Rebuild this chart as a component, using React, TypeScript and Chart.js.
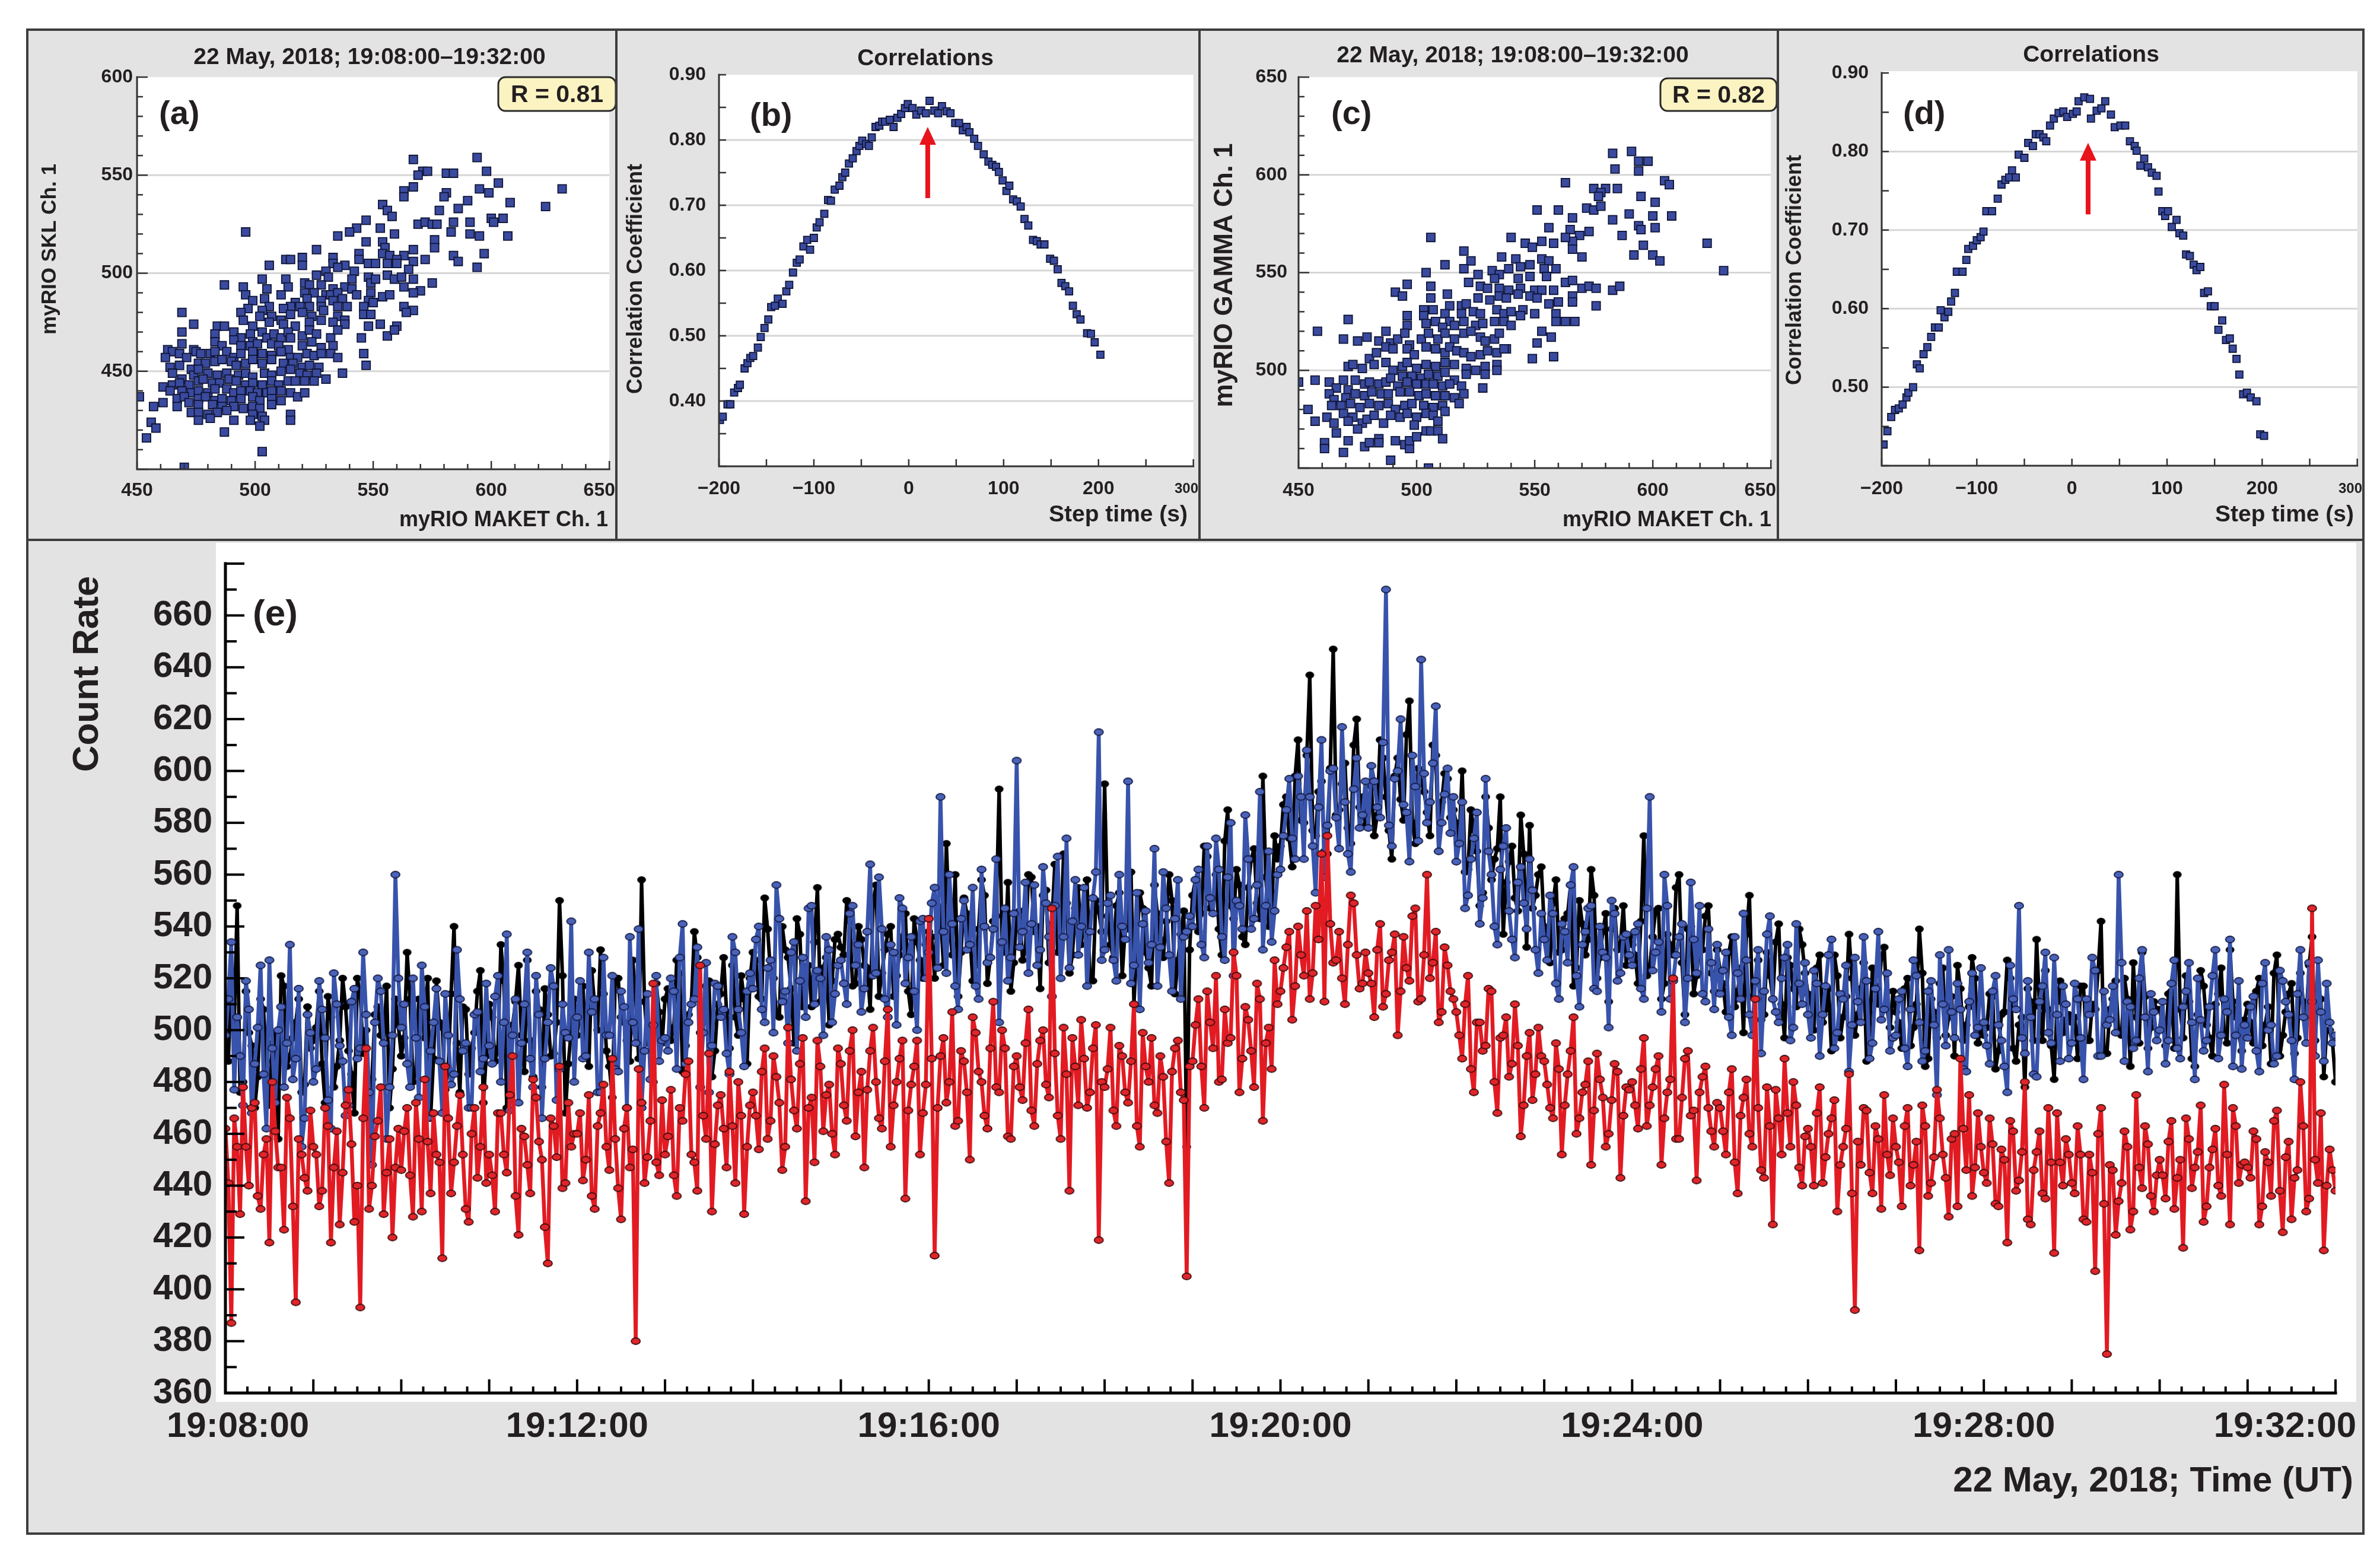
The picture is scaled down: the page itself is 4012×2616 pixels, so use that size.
import React, { useEffect, useRef } from "react";
import { Chart, registerables } from "chart.js";

Chart.register(...registerables);

const SANS = '"Liberation Sans", Arial, sans-serif';
const INK = "#231f20";

// ---------------- texts ----------------
const dateRangeTitle = "22 May, 2018; 19:08:00\u201319:32:00";
const corrTitle = "Correlations";
const aYTitle = "myRIO SKL Ch. 1";
const cYTitle = "myRIO GAMMA Ch. 1";
const scatterXTitle = "myRIO MAKET Ch. 1";
const corrYTitle = "Correlation Coefficient";
const corrXTitle = "Step time (s)";
const eYTitle = "Count Rate";
const eXTitle = "22 May, 2018; Time (UT)";
const aR = "R = 0.81";
const cR = "R = 0.82";

// ---------------- tick labels ----------------
const scatterXLabels = [450, 500, 550, 600, 650];
const aYLabels = [450, 500, 550, 600];
const cYLabels = [500, 550, 600, 650];
const corrXLabels = [-200, -100, 0, 100, 200, 300];
const bYLabels = [0.4, 0.5, 0.6, 0.7, 0.8, 0.9];
const dYLabels = [0.5, 0.6, 0.7, 0.8, 0.9];
const eYLabels = [360, 380, 400, 420, 440, 460, 480, 500, 520, 540, 560, 580, 600, 620, 640, 660];
const eXTickSeconds = [0, 240, 480, 720, 960, 1200, 1440];
const eXLabels = ["19:08:00", "19:12:00", "19:16:00", "19:20:00", "19:24:00", "19:28:00", "19:32:00"];

// ---------------- panel (a): MAKET Ch.1 (x) vs SKL Ch.1 (y) ----------------
const aPairs: [number, number][] = [
  [594,559],[630,543],[623,534],[608,536],[603,546],[598,552],[595,543],[599,541],[590,537],[591,526],
  [600,528],[601,526],[605,528],[595,519],[607,519],[591,520],[597,510],[594,503],[567,558],[581,551],
  [584,551],[571,552],[573,552],[569,550],[563,542],[567,544],[581,541],
  [554,535],[556,532],[558,529],[547,527],[578,532],[586,533],[584,526],[580,539],[563,539],
  [569,525],[572,526],[575,525],[577,525],[543,523],[553,523],[540,521],[559,520],[583,521],[496,521],[535,519],
  [547,516],[554,516],[576,517],[555,513],[576,513],[526,512],[544,510],[567,512],[554,510],[557,509],[584,509],[520,508],[513,507],[515,507],
  [533,508],[544,507],[563,509],[560,507],[572,507],[520,504],[506,504],[533,505],[548,505],[551,505],[556,505],[560,505],[567,506],[586,506],[538,504],[535,503],[530,501],[565,502],[542,501],
  [526,499],[531,498],[541,497],[548,498],[556,499],[559,497],[562,498],[567,497],[503,497],[513,497],[487,494],[495,493],[505,492],[514,493],[521,495],[523,494],[528,494],[533,492],[538,493],[541,492],[549,495],[551,497],[563,493],[575,495],[570,491],
  [511,489],[496,489],[521,490],[525,490],[530,489],[532,489],[535,490],[543,489],[549,490],[554,488],[557,489],[567,490],[499,486],[504,487],[517,485],[522,487],[528,486],[533,486],[537,487],[548,486],[550,485],[563,483],[567,481],[546,483],[539,483],[535,483],[528,483],[523,483],[519,483],[515,483],[512,482],[506,483],[503,481],[497,482],[494,480],[469,480],
  [495,476],[502,478],[507,478],[511,476],[515,479],[520,480],[524,478],[529,481],[535,478],[538,476],[546,479],[549,479],[553,474],[560,473],[564,480],[474,474],[484,473],[487,473],[491,470],[499,473],[506,475],[512,474],[517,473],[523,475],[528,476],[533,475],[538,474],[548,473],
  [469,470],[483,469],[494,467],[498,469],[499,465],[503,470],[505,467],[508,469],[511,467],[514,470],[515,467],[520,468],[523,471],[526,469],[532,467],[535,471],[545,467],[556,468],[559,471],[463,461],[465,460],[469,464],[474,461],[483,465],[486,463],[491,466],[494,463],[498,463],[501,464],[507,464],[510,463],[514,461],[520,463],[524,465],[528,462],[533,463],
  [462,457],[468,459],[471,457],[475,460],[477,459],[481,459],[483,460],[488,460],[491,457],[494,459],[499,460],[503,459],[507,458],[511,460],[515,457],[518,457],[522,459],[525,458],[528,459],[532,459],[535,457],[546,459],[464,452],[468,453],[473,451],[476,454],[479,454],[483,455],[486,456],[490,455],[492,453],[496,454],[499,456],[503,454],[507,456],[512,454],[516,454],[520,452],[523,453],[527,452],[547,453],
  [465,449],[469,446],[474,448],[476,451],[480,449],[484,448],[488,449],[493,448],[496,449],[499,447],[504,449],[507,448],[511,450],[515,451],[519,449],[522,448],[526,449],[530,446],[537,449],[461,442],[465,443],[468,444],[472,443],[476,445],[478,446],[482,444],[485,444],[489,446],[492,445],[496,443],[499,444],[503,443],[507,445],[510,443],[514,445],[517,445],[521,445],[525,445],
  [464,440],[469,440],[473,439],[476,440],[480,439],[483,441],[488,441],[491,439],[494,440],[498,440],[501,439],[505,439],[507,440],[511,440],[515,439],[518,437],[521,439],[451,437],[467,436],[470,437],[476,436],[479,437],[483,435],[486,436],[490,435],[494,436],[499,437],[502,435],[507,436],[511,435],
  [457,432],[461,434],[467,432],[472,434],[476,433],[482,433],[486,432],[491,432],[495,431],[499,432],[502,431],[507,433],[473,429],[476,429],[480,428],[484,429],[488,430],[499,428],[503,427],[515,428],[476,425],[481,426],[491,425],[498,425],[504,425],[515,425],
  [456,424],[458,421],[454,416],[487,419],[502,422],[503,409],[470,401]
];

// ---------------- panel (c): MAKET Ch.1 (x) vs GAMMA Ch.1 (y) ----------------
const cPairs: [number, number][] = [
  [591,612],[583,611],[594,607],[598,607],[594,602],[584,603],[605,597],[607,595],[563,596],[575,593],
  [580,593],[578,591],[585,593],[595,589],[601,586],[600,579],[608,579],[590,580],[594,574],[595,572],
  [601,573],[596,564],[592,559],[600,559],[603,556],[623,565],[630,551],
  [551,582],[560,582],[572,583],[575,582],[578,584],[566,578],[583,577],[587,569],[577,589],
  [556,573],[565,572],[573,571],[569,569],[566,566],[553,566],[558,565],[563,568],[540,568],[506,568],[546,565],[549,563],[566,562],[570,558],[520,561],[536,558],[542,557],[553,557],[556,556],[512,554],[523,556],[548,554],[559,552],[554,552],[520,552],[544,553],[539,552],[532,551],[535,549],[504,550],[526,549],[555,548],[548,548],[543,547],[533,547],[522,545],[563,545],[566,546],[570,542],[573,543],[576,542],[583,541],[586,543],[496,544],[491,540],[494,538],[506,543],[513,539],[527,543],[530,542],[535,542],[539,541],[544,542],[550,541],[553,541],[558,541],
  [506,537],[519,533],[521,534],[526,537],[531,536],[535,538],[538,537],[543,539],[548,538],[551,537],[556,534],[560,535],[566,538],[576,533],[503,531],[514,533],[566,535],[545,531],[550,529],[496,528],[503,528],[507,531],[512,529],[514,525],[519,529],[524,530],[527,529],[534,531],[537,529],[540,530],[544,528],[559,529],[563,525],[567,525],[559,525],
  [471,526],[458,520],[496,523],[504,524],[508,525],[511,522],[516,523],[520,525],[525,523],[528,524],[533,525],[537,525],[540,523],[553,520],[557,517],[551,514],[469,516],[475,515],[479,517],[484,515],[487,520],[489,514],[492,516],[495,519],[497,513],[502,516],[505,519],[509,516],[512,519],[516,516],[520,519],[523,520],[527,517],[529,515],[533,516],[535,519],[538,511],
  [480,506],[483,509],[487,512],[490,511],[496,511],[499,508],[504,512],[508,511],[512,509],[514,512],[517,510],[520,509],[523,507],[527,508],[530,510],[534,509],[537,511],[549,506],[558,507],[471,502],[473,503],[477,501],[482,503],[487,504],[490,500],[494,502],[496,504],[500,501],[504,503],[508,502],[512,504],[516,503],[521,501],[525,500],[529,502],[534,503],[534,500],[521,498],[529,498],[528,491],
  [450,494],[457,495],[463,494],[469,495],[466,491],[471,490],[474,495],[478,493],[480,494],[484,493],[487,494],[489,496],[494,497],[498,497],[502,496],[505,498],[509,497],[512,499],[516,495],[519,492],[520,488],[496,494],[492,492],[500,493],[504,493],[507,493],[511,492],[514,493],
  [463,488],[465,485],[470,486],[474,488],[478,487],[481,489],[485,488],[488,488],[493,489],[497,489],[501,487],[504,488],[508,487],[512,487],[516,486],[518,483],[464,482],[468,482],[472,483],[476,481],[480,483],[484,482],[488,483],[491,480],[495,482],[498,483],[503,482],[507,481],[511,482],
  [454,480],[457,474],[462,476],[465,473],[469,478],[473,476],[477,473],[479,475],[482,477],[486,473],[489,477],[493,476],[496,478],[500,476],[504,478],[507,477],[512,479],[466,468],[471,464],[461,463],[461,460],[469,458],[478,461],[480,463],[484,465],[484,463],[491,464],[495,462],[497,460],[497,464],[500,466],[499,472],[504,469],[506,469],[509,469],[511,465],[509,474],[489,454],[505,450],[471,474],[475,470]
];

// ---------------- panel (b): step time vs correlation ----------------
const bPoints: [number, number][] = [
  [-199,0.371],[-196,0.376],[-191,0.395],[-188,0.395],[-184,0.413],[-180,0.42],[-178,0.425],[-173,0.45],
  [-170,0.458],[-167,0.466],[-164,0.469],[-159,0.482],[-156,0.498],[-152,0.512],[-148,0.525],[-145,0.544],
  [-141,0.546],[-138,0.557],[-133,0.549],[-129,0.568],[-126,0.578],[-122,0.597],[-118,0.612],[-115,0.617],
  [-111,0.637],[-107,0.647],[-104,0.632],[-100,0.65],[-97,0.666],[-94,0.674],[-89,0.687],[-85,0.708],
  [-82,0.707],[-78,0.724],[-73,0.73],[-70,0.743],[-67,0.75],[-63,0.764],[-59,0.772],[-55,0.783],
  [-52,0.791],[-49,0.799],[-45,0.794],[-42,0.791],[-39,0.804],[-35,0.82],[-31,0.822],[-28,0.828],
  [-25,0.828],[-20,0.831],[-16,0.82],[-12,0.834],[-8,0.84],[-4,0.849],[-1,0.855],[4,0.849],
  [8,0.839],[13,0.845],[18,0.841],[22,0.86],[27,0.845],[31,0.841],[35,0.852],[40,0.844],
  [44,0.841],[49,0.826],[53,0.826],[57,0.815],[61,0.82],[64,0.812],[69,0.802],[73,0.791],
  [79,0.778],[84,0.767],[88,0.762],[92,0.759],[95,0.751],[99,0.738],[103,0.722],[106,0.73],
  [110,0.709],[114,0.706],[118,0.698],[122,0.679],[126,0.669],[131,0.647],[135,0.645],[139,0.64],
  [143,0.64],[149,0.618],[153,0.615],[157,0.602],[161,0.581],[165,0.576],[169,0.568],[173,0.546],
  [177,0.533],[181,0.525],[188,0.504],[192,0.503],[196,0.49],[202,0.471]
];
const bArrow = { lag: 20, tip: 0.82, base: 0.711 };

// ---------------- panel (d): step time vs correlation ----------------
const dPoints: [number, number][] = [
  [-198,0.427],[-194,0.444],[-190,0.462],[-186,0.471],[-182,0.473],[-178,0.478],[-174,0.487],[-172,0.493],
  [-167,0.5],[-163,0.529],[-160,0.524],[-156,0.542],[-152,0.551],[-148,0.564],[-144,0.576],[-140,0.576],
  [-138,0.598],[-134,0.589],[-130,0.596],[-127,0.609],[-123,0.62],[-121,0.647],[-115,0.647],[-111,0.662],
  [-109,0.676],[-104,0.68],[-100,0.687],[-96,0.691],[-93,0.698],[-90,0.724],[-84,0.724],[-78,0.74],
  [-74,0.758],[-70,0.764],[-66,0.767],[-63,0.776],[-59,0.767],[-56,0.796],[-50,0.792],[-46,0.811],
  [-41,0.807],[-38,0.822],[-34,0.822],[-30,0.818],[-27,0.813],[-23,0.833],[-19,0.842],[-14,0.849],
  [-9,0.851],[-5,0.844],[1,0.848],[5,0.851],[7,0.864],[13,0.869],[19,0.867],[20,0.842],
  [26,0.852],[31,0.855],[35,0.864],[41,0.847],[45,0.831],[51,0.833],[56,0.833],[61,0.813],
  [66,0.807],[68,0.801],[72,0.782],[76,0.791],[80,0.78],[84,0.773],[89,0.769],[91,0.749],
  [95,0.724],[98,0.718],[101,0.724],[105,0.704],[110,0.713],[113,0.696],[117,0.693],[120,0.669],
  [124,0.667],[128,0.656],[131,0.649],[135,0.653],[139,0.62],[143,0.622],[146,0.603],[150,0.603],
  [154,0.573],[158,0.585],[162,0.56],[166,0.562],[169,0.549],[173,0.536],[176,0.516],[180,0.491],
  [184,0.493],[188,0.487],[194,0.482],[198,0.44],[202,0.438]
];
const dArrow = { lag: 17, tip: 0.811, base: 0.72 };

// ---------------- panel (e): count rates, one sample every 2 s from 19:08:00 (one row per minute) ----------------
const eSampleStep = 2;
const eBlack = [
  505,488,520,503,548,476,480,515,499,494,470,482,512,508,488,471,495,499,458,521,517,486,490,497,503,512,476,479,509,493,
  496,501,515,487,472,513,505,478,486,496,520,509,492,483,468,520,514,491,500,474,481,506,509,498,495,517,470,485,512,502,
  490,497,530,512,480,484,512,506,497,520,466,489,519,503,501,477,485,514,540,495,476,509,508,483,493,499,515,523,472,490,
  510,505,488,493,533,519,470,486,502,511,525,498,484,527,496,482,515,508,478,516,506,490,491,503,550,521,468,487,500,512,
  498,508,517,491,486,523,509,500,531,514,492,486,474,519,520,505,503,496,488,527,512,489,558,511,495,502,480,518,507,495,
  512,516,496,501,527,522,484,494,506,510,538,528,499,503,517,519,482,492,510,514,528,507,493,525,505,498,521,512,487,520,
  530,527,513,512,551,539,522,520,506,505,540,531,528,516,495,543,537,509,519,525,509,534,555,511,524,528,502,519,535,537,
  532,529,550,542,517,518,540,535,525,524,508,549,556,513,522,531,537,540,513,521,529,536,545,515,506,543,534,527,520,533,
  538,536,520,548,546,525,572,541,529,560,513,530,551,545,537,519,525,539,558,552,518,528,542,544,593,533,530,557,515,526,
  545,546,527,531,560,559,538,540,516,552,554,526,541,564,530,537,568,549,522,529,547,555,533,543,558,520,519,550,546,538,
  595,544,533,528,548,553,521,539,539,561,510,532,553,547,530,524,517,556,545,535,528,542,560,550,514,527,537,546,455,531,
  552,558,538,545,571,567,547,551,560,539,529,573,585,548,543,562,556,536,533,555,566,570,549,543,598,559,540,546,575,566,
  571,587,590,574,563,598,612,581,580,606,637,577,575,592,596,569,568,601,647,583,585,595,603,578,572,610,620,586,590,579,
  588,594,575,583,612,605,590,577,566,598,605,589,581,614,627,580,572,601,596,592,584,575,610,606,569,588,599,597,582,585,
  580,574,600,561,562,585,577,569,548,553,590,578,558,566,570,590,537,557,565,571,551,546,583,568,532,579,547,552,560,563,
  540,537,526,549,558,530,531,543,545,556,517,524,550,541,529,535,562,552,520,528,538,545,511,539,547,531,533,548,525,536,
  533,529,518,542,575,521,524,536,546,547,512,518,537,533,529,555,560,526,506,539,540,514,521,535,531,544,548,522,515,531,
  523,518,507,530,536,509,515,524,499,537,552,513,518,527,504,506,530,521,512,534,541,510,497,528,525,516,509,539,533,522,
  514,511,500,524,529,503,508,516,492,529,521,497,505,513,537,520,498,506,516,526,488,499,524,517,510,528,532,508,501,515,
  507,503,493,516,520,494,501,510,539,522,486,489,512,507,497,518,524,498,505,513,490,525,516,496,502,509,528,520,495,501,
  498,501,514,513,485,492,506,507,527,520,493,488,502,505,478,516,511,496,535,509,496,523,508,494,481,511,519,499,504,506,
  503,505,489,517,517,496,496,510,508,523,542,491,491,508,512,519,499,498,520,512,486,526,505,495,530,513,493,501,511,508,
  508,502,494,514,515,493,560,508,497,521,511,489,486,506,523,517,502,497,490,510,514,524,499,495,531,511,505,499,492,504,
  510,503,495,515,520,494,502,509,487,522,529,490,498,507,514,518,491,497,522,511,505,525,536,496,513,512,482,500,500,495,
  480
];
const eBlue = [
  498,512,534,477,505,490,471,519,508,468,487,501,525,483,462,527,493,472,500,509,478,495,533,481,489,516,455,466,506,499,
  480,485,519,508,497,473,462,522,510,494,488,467,471,511,516,489,493,530,506,476,448,503,520,515,495,458,478,498,560,520,
  501,510,487,478,520,497,474,525,509,466,492,503,516,488,468,514,498,479,483,531,512,492,495,470,470,506,507,484,489,518,
  494,487,513,521,480,503,537,469,498,512,472,495,510,530,489,478,521,506,466,489,503,524,517,473,485,510,499,497,542,480,
  505,519,489,490,530,507,512,476,476,528,498,498,521,485,484,515,509,470,536,503,495,539,470,492,514,481,502,521,488,496,
  497,492,520,515,485,528,541,487,503,510,512,532,478,499,526,476,494,518,517,505,508,491,483,536,530,508,499,486,515,522,
  516,535,540,508,503,524,527,499,556,543,511,515,495,530,534,492,519,528,505,547,548,510,523,520,498,536,531,503,514,525,
  527,518,510,545,548,525,533,507,516,538,564,521,522,559,539,512,505,533,530,502,551,547,518,528,536,515,500,542,543,520,
  530,549,555,524,590,538,522,560,541,517,508,543,550,531,533,555,517,512,562,540,526,528,539,566,503,534,547,519,528,545,
  604,532,538,557,522,541,556,525,531,563,549,536,513,548,567,520,536,574,524,542,558,529,540,555,517,538,551,561,615,527,
  531,549,552,527,519,560,540,535,596,518,525,553,508,541,546,526,533,570,517,532,561,547,529,515,543,558,512,536,538,544,
  540,558,562,533,528,571,551,545,574,562,536,527,559,580,521,550,548,539,583,566,539,543,556,592,531,548,569,534,546,560,
  562,575,585,597,574,566,598,590,566,608,590,571,553,586,612,559,579,600,601,582,570,617,588,568,561,593,605,578,583,596,
  578,602,596,586,582,611,670,579,571,597,600,620,587,584,565,606,594,573,643,599,580,588,603,625,569,580,591,601,576,590,
  565,572,588,547,552,566,574,584,541,551,597,569,560,540,533,562,571,578,546,535,528,557,563,549,539,566,554,531,522,545,
  535,527,552,545,518,512,541,538,526,556,563,521,509,533,538,547,548,516,515,540,530,528,501,550,545,519,522,536,537,529,
  525,538,541,516,512,547,590,523,530,534,507,560,548,512,519,529,536,541,503,520,557,535,522,548,514,511,539,526,508,533,
  514,523,530,505,498,536,522,512,545,527,506,498,519,531,491,515,537,544,512,507,503,520,528,533,496,501,541,518,510,526,
  506,497,523,518,490,506,517,529,535,493,499,514,512,525,484,502,528,511,503,536,519,489,495,516,538,504,508,522,492,497,
  498,512,515,493,486,508,527,521,503,488,492,515,519,502,475,529,510,494,531,507,497,518,508,485,484,511,522,498,501,524,
  503,494,487,515,521,502,496,486,476,525,512,508,548,497,491,519,505,483,482,511,517,530,499,495,528,506,488,517,510,489,
  495,518,512,497,481,512,506,528,523,490,490,515,502,504,517,499,560,526,488,511,509,493,496,520,531,505,484,514,507,496,
  500,511,487,496,518,527,493,489,509,515,526,503,481,520,504,492,496,509,521,531,489,498,512,507,535,486,498,519,485,502,
  497,509,513,492,484,518,526,500,502,487,490,523,519,511,506,496,481,514,531,505,495,526,511,490,527,507,488,518,503,495,
  498
];
const eRed = [
  462,441,387,466,455,429,478,455,440,470,472,436,431,452,458,418,480,461,447,447,423,474,466,432,395,458,452,443,438,469,
  455,452,432,438,470,463,418,447,461,425,445,471,477,456,426,440,393,466,493,431,440,459,465,478,429,445,458,420,447,462,
  446,461,470,444,428,472,458,430,481,457,437,468,452,449,412,486,466,437,449,463,475,452,431,426,460,470,443,455,478,441,
  452,444,430,468,468,452,445,475,490,436,421,462,459,448,437,481,474,457,450,424,410,466,463,451,486,439,441,472,455,460,
  460,468,442,450,475,436,431,463,468,479,455,446,489,458,439,427,462,470,447,454,380,485,472,441,451,465,518,449,444,473,
  452,459,477,444,436,470,465,483,488,452,449,438,525,467,458,491,430,456,471,475,462,447,484,463,441,480,467,429,455,471,
  476,467,454,484,493,458,465,490,482,472,446,455,501,481,469,462,487,497,434,470,474,449,496,486,461,475,479,460,452,493,
  487,471,465,492,500,459,476,484,447,477,492,501,480,466,462,488,508,455,471,480,489,496,435,469,479,486,496,452,468,479,
  543,489,413,470,490,497,472,480,507,463,465,492,488,476,450,505,499,484,480,467,462,493,511,478,476,500,493,459,458,486,
  490,478,473,495,508,469,463,487,496,500,479,474,547,491,467,458,501,483,438,497,486,471,504,489,470,476,493,502,419,480,
  478,485,501,469,463,494,490,476,472,488,510,463,455,499,486,480,497,471,468,490,482,457,441,484,493,496,476,473,405,486,
  488,502,512,486,470,515,503,493,521,480,481,508,495,497,530,521,476,489,509,504,492,478,518,512,465,495,501,485,527,510,
  515,524,532,538,504,517,540,529,521,546,512,522,548,535,568,511,575,541,526,527,538,520,510,533,552,549,529,516,518,530,
  522,518,505,531,541,509,514,527,530,537,498,515,536,524,519,544,547,511,512,529,560,520,526,538,503,507,532,525,515,512,
  507,498,489,510,521,485,476,503,503,492,494,516,515,480,468,497,498,505,482,487,510,494,459,471,490,499,473,483,501,490,
  488,479,470,466,495,485,452,471,483,492,505,460,466,476,479,488,448,469,491,481,474,455,460,473,487,484,443,467,478,477,
  480,471,462,485,497,463,471,478,485,490,448,466,476,481,520,458,458,474,489,492,467,469,442,476,482,486,470,461,455,472,
  470,461,452,476,485,449,437,467,474,481,460,455,512,470,446,443,478,463,425,477,466,452,489,468,455,480,471,447,440,459,
  462,455,440,468,478,441,451,460,466,473,430,448,455,462,483,437,392,457,448,470,469,445,437,463,458,431,475,452,444,466,
  455,449,432,463,470,440,448,457,415,471,463,436,441,451,477,466,452,443,428,458,460,432,489,462,446,475,436,447,468,455,
  445,441,466,456,433,432,454,450,418,465,461,438,442,453,480,427,425,446,453,461,437,435,470,449,414,468,449,440,458,452,
  441,437,463,452,427,426,452,445,407,460,470,433,375,448,446,421,434,441,461,455,423,430,475,447,439,463,456,436,430,444,
  450,444,435,457,465,431,443,450,416,466,458,439,447,453,471,426,432,447,454,462,440,436,479,452,425,470,463,441,448,449,
  447,443,461,458,425,432,453,449,436,465,469,438,422,451,457,427,443,446,480,463,430,435,547,450,441,468,415,440,454,446,
  438
];

// ---------------- drawing helpers ----------------
type Ticks = { min: number; max: number; minor: number; major: number; minorLen: number; majorLen: number };
type TextItem = { text: string; x: number; y: number; font: string; align?: CanvasTextAlign; rotate?: boolean };
type Decor = {
  white: [number, number, number, number];
  grid?: number[];
  axisColor: string;
  axisWidth: number;
  tickWidth: number;
  xt: Ticks;
  yt: Ticks;
  xLabels: { v: number; t: string; font?: string }[];
  xLabelY: number;
  xFont: string;
  xClamp: [number, number];
  yLabels: { v: number; t: string }[];
  yLabelRight: number;
  yFont: string;
  texts: TextItem[];
  rBox?: { x: number; y: number; w: number; h: number; text: string; font: string };
  arrow?: { lag: number; tip: number; base: number };
};

function isMultiple(v: number, step: number) {
  const q = v / step;
  return Math.abs(q - Math.round(q)) < 1e-6;
}

function decorPlugin(cfg: Decor) {
  return {
    id: "decor",
    beforeDraw(chart: any) {
      const { ctx, chartArea: ca } = chart;
      const [l, t, r, b] = cfg.white;
      ctx.save();
      ctx.fillStyle = "#ffffff";
      ctx.fillRect(ca.left - l, ca.top - t, ca.right - ca.left + l + r, ca.bottom - ca.top + t + b);
      if (cfg.grid) {
        ctx.strokeStyle = "#d6d6d6";
        ctx.lineWidth = 3;
        for (const v of cfg.grid) {
          const y = chart.scales.y.getPixelForValue(v);
          ctx.beginPath();
          ctx.moveTo(ca.left, y);
          ctx.lineTo(ca.right, y);
          ctx.stroke();
        }
      }
      ctx.restore();
    },
    afterDatasetsDraw(chart: any) {
      const { ctx, chartArea: ca } = chart;
      const xs = chart.scales.x;
      const ys = chart.scales.y;
      ctx.save();
      ctx.strokeStyle = cfg.axisColor;
      ctx.fillStyle = INK;
      ctx.lineWidth = cfg.tickWidth;
      const ny = Math.round((cfg.yt.max - cfg.yt.min) / cfg.yt.minor);
      for (let i = 0; i <= ny; i++) {
        const v = cfg.yt.min + i * cfg.yt.minor;
        const len = isMultiple(v, cfg.yt.major) ? cfg.yt.majorLen : cfg.yt.minorLen;
        const y = ys.getPixelForValue(v);
        ctx.beginPath();
        ctx.moveTo(ca.left, y);
        ctx.lineTo(ca.left + len, y);
        ctx.stroke();
      }
      const nx = Math.round((cfg.xt.max - cfg.xt.min) / cfg.xt.minor);
      for (let i = 0; i <= nx; i++) {
        const v = cfg.xt.min + i * cfg.xt.minor;
        const len = isMultiple(v, cfg.xt.major) ? cfg.xt.majorLen : cfg.xt.minorLen;
        const x = xs.getPixelForValue(v);
        ctx.beginPath();
        ctx.moveTo(x, ca.bottom);
        ctx.lineTo(x, ca.bottom - len);
        ctx.stroke();
      }
      ctx.lineWidth = cfg.axisWidth;
      ctx.lineCap = "square";
      ctx.beginPath();
      ctx.moveTo(ca.left, ca.top);
      ctx.lineTo(ca.left, ca.bottom);
      ctx.lineTo(ca.right, ca.bottom);
      ctx.stroke();
      ctx.lineCap = "butt";
      ctx.font = cfg.yFont;
      ctx.textAlign = "right";
      ctx.textBaseline = "middle";
      for (const l of cfg.yLabels) {
        ctx.fillText(l.t, cfg.yLabelRight, ys.getPixelForValue(l.v));
      }
      ctx.textAlign = "center";
      for (const l of cfg.xLabels) {
        ctx.font = l.font || cfg.xFont;
        const w = ctx.measureText(l.t).width;
        let cx = xs.getPixelForValue(l.v);
        if (cx - w / 2 < cfg.xClamp[0]) cx = cfg.xClamp[0] + w / 2;
        if (cx + w / 2 > cfg.xClamp[1]) cx = cfg.xClamp[1] - w / 2;
        ctx.fillText(l.t, cx, cfg.xLabelY);
      }
      if (cfg.rBox) {
        const r = cfg.rBox;
        const rad = 12;
        ctx.beginPath();
        ctx.moveTo(r.x + rad, r.y);
        ctx.lineTo(r.x + r.w - rad, r.y);
        ctx.arcTo(r.x + r.w, r.y, r.x + r.w, r.y + rad, rad);
        ctx.lineTo(r.x + r.w, r.y + r.h - rad);
        ctx.arcTo(r.x + r.w, r.y + r.h, r.x + r.w - rad, r.y + r.h, rad);
        ctx.lineTo(r.x + rad, r.y + r.h);
        ctx.arcTo(r.x, r.y + r.h, r.x, r.y + r.h - rad, rad);
        ctx.lineTo(r.x, r.y + rad);
        ctx.arcTo(r.x, r.y, r.x + rad, r.y, rad);
        ctx.closePath();
        ctx.fillStyle = "#fbf4c2";
        ctx.fill();
        ctx.lineWidth = 3;
        ctx.strokeStyle = "#2a2a2a";
        ctx.stroke();
        ctx.fillStyle = INK;
        ctx.font = r.font;
        ctx.textAlign = "center";
        ctx.textBaseline = "middle";
        ctx.fillText(r.text, r.x + r.w / 2, r.y + r.h / 2 + 2);
      }
      if (cfg.arrow) {
        const a = cfg.arrow;
        const px = xs.getPixelForValue(a.lag);
        const tip = ys.getPixelForValue(a.tip);
        const base = ys.getPixelForValue(a.base);
        const headLen = 30;
        ctx.fillStyle = "#e8131b";
        ctx.fillRect(px - 4, tip + headLen - 2, 8, base - tip - headLen + 2);
        ctx.beginPath();
        ctx.moveTo(px, tip);
        ctx.lineTo(px - 14, tip + headLen);
        ctx.lineTo(px + 14, tip + headLen);
        ctx.closePath();
        ctx.fill();
        ctx.fillStyle = INK;
      }
      for (const t of cfg.texts) {
        ctx.font = t.font;
        ctx.textBaseline = "middle";
        ctx.textAlign = t.align || "center";
        if (t.rotate) {
          ctx.save();
          ctx.translate(t.x, t.y);
          ctx.rotate(-Math.PI / 2);
          ctx.fillText(t.text, 0, 0);
          ctx.restore();
        } else {
          ctx.fillText(t.text, t.x, t.y);
        }
      }
      ctx.restore();
    },
  };
}

function baseOptions(padding: any, xMin: number, xMax: number, yMin: number, yMax: number) {
  return {
    responsive: false,
    maintainAspectRatio: false,
    animation: false,
    devicePixelRatio: 1,
    events: [],
    layout: { padding },
    plugins: { legend: { display: false }, tooltip: { enabled: false }, title: { display: false } },
    scales: {
      x: { type: "linear", display: false, min: xMin, max: xMax },
      y: { type: "linear", display: false, min: yMin, max: yMax },
    },
  } as any;
}

const SQUARE_FILL = "#3a4a9e";
const SQUARE_EDGE = "#0f1535";

function scatterDataset(pairs: [number, number][], radius: number) {
  return {
    type: "scatter",
    data: pairs.map(([x, y]) => ({ x, y })),
    pointStyle: "rect",
    pointRadius: radius,
    backgroundColor: SQUARE_FILL,
    borderColor: SQUARE_EDGE,
    borderWidth: 1.8,
  } as any;
}

const bold = (px: number) => `bold ${px}px ${SANS}`;

function makeA(canvas: HTMLCanvasElement) {
  const decor: Decor = {
    white: [0, 0, 0, 0],
    grid: [450, 500, 550],
    axisColor: "#333333",
    axisWidth: 3,
    tickWidth: 2.5,
    xt: { min: 450, max: 650, minor: 10, major: 50, minorLen: 9, majorLen: 14 },
    yt: { min: 400, max: 600, minor: 10, major: 50, minorLen: 10, majorLen: 18 },
    xLabels: scatterXLabels.map((v) => ({ v, t: String(v) })),
    xLabelY: 777,
    xFont: bold(32),
    xClamp: [0, 991],
    yLabels: aYLabels.map((v) => ({ v, t: String(v) })),
    yLabelRight: 178,
    yFont: bold(32),
    texts: [
      { text: dateRangeTitle, x: 577, y: 47, font: bold(39) },
      { text: aYTitle, x: 38, y: 370, font: bold(35), rotate: true },
      { text: scatterXTitle, x: 979, y: 827, font: bold(36), align: "right" },
      { text: "(a)", x: 222, y: 144, font: bold(56), align: "left" },
    ],
    rBox: { x: 794, y: 80, w: 198, h: 57, text: aR, font: bold(41) },
  };
  return new Chart(canvas, {
    type: "scatter",
    data: { datasets: [scatterDataset(aPairs, 10)] },
    options: baseOptions({ left: 185, top: 80, right: 2, bottom: 119 }, 450, 650, 400, 600),
    plugins: [decorPlugin(decor)],
  });
}

function makeC(canvas: HTMLCanvasElement) {
  const decor: Decor = {
    white: [0, 0, 0, 0],
    grid: [500, 550, 600],
    axisColor: "#333333",
    axisWidth: 3,
    tickWidth: 2.5,
    xt: { min: 450, max: 650, minor: 10, major: 50, minorLen: 9, majorLen: 14 },
    yt: { min: 450, max: 650, minor: 10, major: 50, minorLen: 10, majorLen: 18 },
    xLabels: scatterXLabels.map((v) => ({ v, t: String(v) })),
    xLabelY: 777,
    xFont: bold(32),
    xClamp: [0, 972],
    yLabels: cYLabels.map((v) => ({ v, t: String(v) })),
    yLabelRight: 148,
    yFont: bold(32),
    texts: [
      { text: dateRangeTitle, x: 528, y: 44, font: bold(39) },
      { text: cYTitle, x: 43, y: 414, font: bold(44), rotate: true },
      { text: scatterXTitle, x: 964, y: 827, font: bold(36), align: "right" },
      { text: "(c)", x: 222, y: 144, font: bold(56), align: "left" },
    ],
    rBox: { x: 777, y: 82, w: 196, h: 55, text: cR, font: bold(41) },
  };
  return new Chart(canvas, {
    type: "scatter",
    data: { datasets: [scatterDataset(cPairs, 10)] },
    options: baseOptions({ left: 167, top: 80, right: 3, bottom: 121 }, 450, 650, 450, 650),
    plugins: [decorPlugin(decor)],
  });
}

function corrLabel(v: number) {
  return v < 0 ? "\u2212" + Math.abs(v) : String(v);
}

function makeB(canvas: HTMLCanvasElement) {
  const decor: Decor = {
    white: [0, 0, 0, 0],
    grid: [0.4, 0.5, 0.6, 0.7, 0.8],
    axisColor: "#333333",
    axisWidth: 3,
    tickWidth: 2.5,
    xt: { min: -200, max: 300, minor: 50, major: 100, minorLen: 12, majorLen: 12 },
    yt: { min: 0.3, max: 0.9, minor: 0.05, major: 0.1, minorLen: 12, majorLen: 12 },
    xLabels: corrXLabels.map((v) => ({ v, t: corrLabel(v), font: v === 300 ? bold(24) : undefined })),
    xLabelY: 774,
    xFont: bold(32),
    xClamp: [0, 981],
    yLabels: bYLabels.map((v) => ({ v, t: v.toFixed(2) })),
    yLabelRight: 151,
    yFont: bold(32),
    texts: [
      { text: corrTitle, x: 521, y: 49, font: bold(39) },
      { text: corrYTitle, x: 33, y: 420, font: bold(36), rotate: true },
      { text: corrXTitle, x: 963, y: 818, font: bold(39), align: "right" },
      { text: "(b)", x: 225, y: 147, font: bold(56), align: "left" },
    ],
    arrow: bArrow,
  };
  return new Chart(canvas, {
    type: "scatter",
    data: { datasets: [scatterDataset(bPoints, 8.5)] },
    options: baseOptions({ left: 173, top: 76, right: 10, bottom: 124 }, -200, 300, 0.3, 0.9),
    plugins: [decorPlugin(decor)],
  });
}

function makeD(canvas: HTMLCanvasElement) {
  const decor: Decor = {
    white: [0, 3, 0, 0],
    grid: [0.5, 0.6, 0.7, 0.8],
    axisColor: "#333333",
    axisWidth: 3,
    tickWidth: 2.5,
    xt: { min: -200, max: 300, minor: 50, major: 100, minorLen: 12, majorLen: 12 },
    yt: { min: 0.4, max: 0.9, minor: 0.05, major: 0.1, minorLen: 12, majorLen: 12 },
    xLabels: corrXLabels.map((v) => ({ v, t: corrLabel(v), font: v === 300 ? bold(24) : undefined })),
    xLabelY: 774,
    xFont: bold(32),
    xClamp: [0, 985],
    yLabels: dYLabels.map((v) => ({ v, t: v.toFixed(2) })),
    yLabelRight: 153,
    yFont: bold(32),
    texts: [
      { text: corrTitle, x: 528, y: 43, font: bold(39) },
      { text: corrYTitle, x: 29, y: 405, font: bold(36), rotate: true },
      { text: corrXTitle, x: 971, y: 818, font: bold(39), align: "right" },
      { text: "(d)", x: 211, y: 144, font: bold(56), align: "left" },
    ],
    arrow: dArrow,
  };
  return new Chart(canvas, {
    type: "scatter",
    data: { datasets: [scatterDataset(dPoints, 8.5)] },
    options: baseOptions({ left: 175, top: 73, right: 8, bottom: 125 }, -200, 300, 0.4, 0.9),
    plugins: [decorPlugin(decor)],
  });
}

// elliptical marker image (the markers in the figure are slightly flattened circles)
function ellipseMarker(fill: string, edge: string, w: number, h: number) {
  const c = document.createElement("canvas");
  c.width = Math.ceil(w + 4);
  c.height = Math.ceil(h + 4);
  const g = c.getContext("2d")!;
  g.beginPath();
  g.ellipse(c.width / 2, c.height / 2, w / 2, h / 2, 0, 0, Math.PI * 2);
  g.fillStyle = fill;
  g.fill();
  g.lineWidth = 1.8;
  g.strokeStyle = edge;
  g.stroke();
  return c;
}

function lineDataset(values: number[], line: string, marker: HTMLCanvasElement, width: number, order: number) {
  return {
    type: "line",
    data: values.map((y, i) => ({ x: i * eSampleStep, y })),
    borderColor: line,
    borderWidth: width,
    borderJoinStyle: "round",
    tension: 0,
    pointStyle: marker,
    pointRadius: 7,
    order,
  } as any;
}

function makeE(canvas: HTMLCanvasElement) {
  const decor: Decor = {
    white: [16, 35, 35, 15],
    axisColor: "#000000",
    axisWidth: 5,
    tickWidth: 4,
    xt: { min: 0, max: 1440, minor: 15, major: 60, minorLen: 11, majorLen: 23 },
    yt: { min: 360, max: 680, minor: 10, major: 20, minorLen: 19, majorLen: 32 },
    xLabels: eXTickSeconds.map((v, i) => ({ v, t: eXLabels[i] })),
    xLabelY: 1495,
    xFont: bold(60),
    xClamp: [235, 3926],
    yLabels: eYLabels.map((v) => ({ v, t: String(v) })),
    yLabelRight: 312,
    yFont: bold(60),
    texts: [
      { text: eYTitle, x: 102, y: 226, font: bold(62), rotate: true },
      { text: eXTitle, x: 3921, y: 1587, font: bold(60), align: "right" },
      { text: "(e)", x: 380, y: 127, font: bold(62), align: "left" },
    ],
  };
  const redMarker = ellipseMarker("#e0252b", "#3a0c0c", 15, 11);
  const blueMarker = ellipseMarker("#4a63b8", "#141a45", 15, 11);
  const blackMarker = ellipseMarker("#000000", "#000000", 13, 10);
  return new Chart(canvas, {
    type: "line",
    data: {
      datasets: [
        lineDataset(eRed, "#e21b23", redMarker, 6.5, 0),
        lineDataset(eBlue, "#3853ab", blueMarker, 6.5, 1),
        lineDataset(eBlack, "#000000", blackMarker, 6, 2),
      ],
    },
    options: baseOptions({ left: 334, top: 40, right: 47, bottom: 237 }, 0, 1440, 360, 680),
    plugins: [decorPlugin(decor)],
  });
}

function Panel(props: { left: number; top: number; width: number; height: number; make: (c: HTMLCanvasElement) => Chart }) {
  const ref = useRef<HTMLCanvasElement>(null);
  useEffect(() => {
    const chart = props.make(ref.current!);
    return () => chart.destroy();
  }, []);
  return (
    <canvas
      ref={ref}
      width={props.width}
      height={props.height}
      style={{ position: "absolute", left: props.left, top: props.top, width: props.width, height: props.height }}
    />
  );
}

const FRAME = "#3d3d3d";

export default function App() {
  useEffect(() => {
    document.body.style.margin = "0";
  }, []);
  const line = (left: number, top: number, width: number, height: number) => (
    <div style={{ position: "absolute", left, top, width, height, background: FRAME }} />
  );
  return (
    <div style={{ position: "absolute", left: 0, top: 0, width: 4012, height: 2616, background: "#ffffff", overflow: "hidden" }}>
      <div style={{ position: "absolute", left: 46, top: 50, width: 3938, height: 2535, background: "#e3e3e3" }} />
      <Panel left={46} top={50} width={993} height={860} make={makeA} />
      <Panel left={1039} top={50} width={983} height={860} make={makeB} />
      <Panel left={2022} top={50} width={975} height={860} make={makeC} />
      <Panel left={2997} top={50} width={987} height={860} make={makeD} />
      <Panel left={46} top={910} width={3938} height={1675} make={makeE} />
      {line(44, 48, 3942, 4)}
      {line(44, 2583, 3942, 4)}
      {line(44, 48, 4, 2539)}
      {line(3982, 48, 4, 2539)}
      {line(46, 908, 3938, 4)}
      {line(1037, 50, 4, 860)}
      {line(2020, 50, 4, 860)}
      {line(2995, 50, 4, 860)}
    </div>
  );
}
